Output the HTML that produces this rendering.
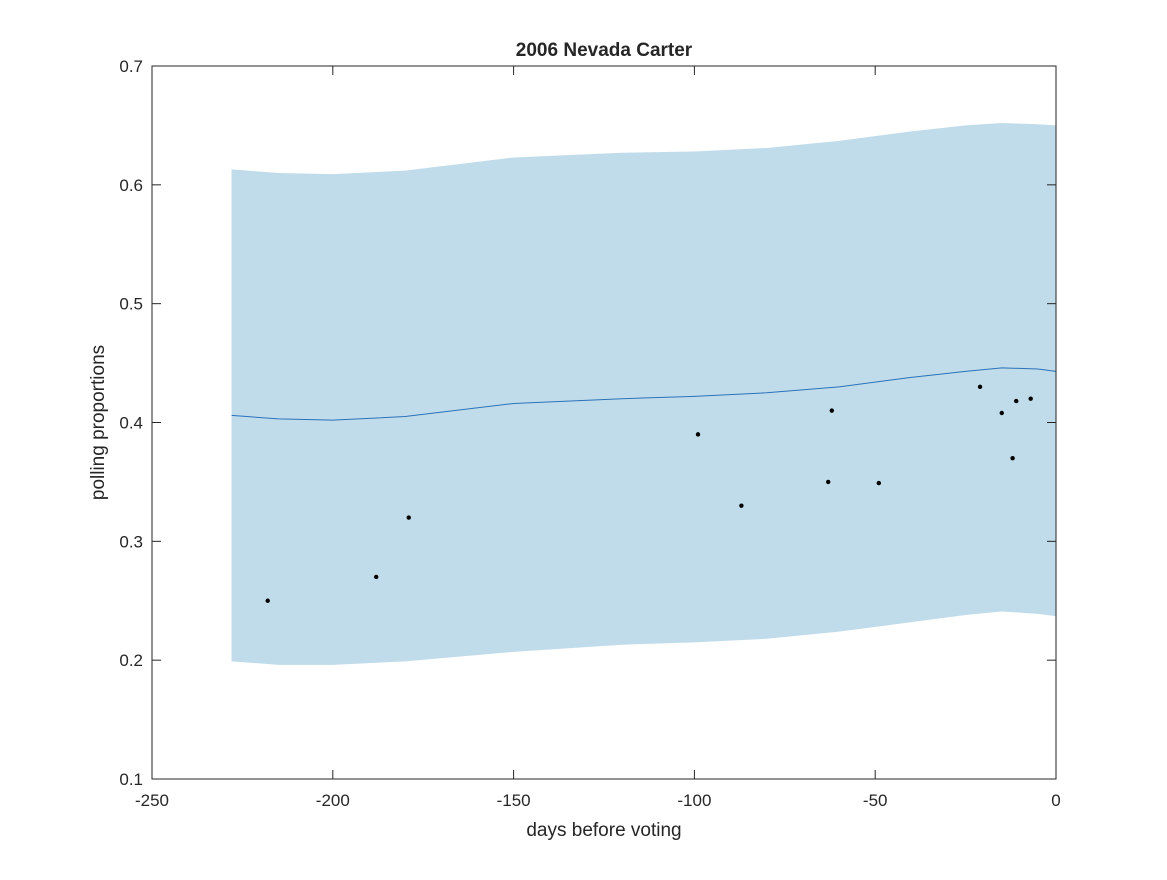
<!DOCTYPE html>
<html><head><meta charset="utf-8"><style>
body{margin:0;background:#fff;font-family:"Liberation Sans",sans-serif;}
svg text{font-family:"Liberation Sans",sans-serif;fill:#262626;}
</style></head><body>
<svg id="chart" width="1167" height="875"></svg>
<script>
const xTicks=[-250,-200,-150,-100,-50,0];
const yTicks=[0.1,0.2,0.3,0.4,0.5,0.6,0.7];
const pollDays=[-218,-188,-179,-99,-87,-63,-62,-49,-21,-15,-12,-11,-7];
const pollVals=[0.25,0.27,0.32,0.39,0.33,0.35,0.41,0.349,0.43,0.408,0.37,0.418,0.42];
const bandDays=[-228,-215,-200,-180,-150,-120,-100,-80,-60,-40,-25,-15,-5,0];
const upperVals=[0.613,0.610,0.609,0.612,0.623,0.627,0.628,0.631,0.637,0.645,0.650,0.652,0.651,0.650];
const lowerVals=[0.199,0.196,0.196,0.199,0.207,0.213,0.215,0.218,0.224,0.232,0.238,0.241,0.239,0.237];
const meanVals=[0.406,0.403,0.402,0.405,0.416,0.420,0.422,0.425,0.430,0.438,0.443,0.446,0.445,0.443];
const L=152,R=1056,T=66,B=779;
const sx=d=>L+(d+250)/250*(R-L);
const sy=v=>B-(v-0.1)/0.6*(B-T);
const svg=document.getElementById('chart');
const NS='http://www.w3.org/2000/svg';
function mk(tag,attrs,parent){const e=document.createElementNS(NS,tag);for(const k in attrs)e.setAttribute(k,attrs[k]);(parent||svg).appendChild(e);return e;}
let up=bandDays.map((d,i)=>sx(d)+','+sy(upperVals[i]));
let lo=bandDays.map((d,i)=>sx(d)+','+sy(lowerVals[i])).reverse();
const band=mk('polygon',{points:up.concat(lo).join(' '),fill:'#c0dcea'});


const mean=mk('polyline',{points:bandDays.map((d,i)=>sx(d)+','+sy(meanVals[i])).join(' '),fill:'none',stroke:'#2a72b8','stroke-width':1});


pollDays.forEach((d,i)=>{
  const c=mk('circle',{cx:sx(d),cy:sy(pollVals[i]),r:2.2,fill:'#000'});
  
  
});
const frame=mk('rect',{x:L,y:T,width:R-L,height:B-T,fill:'none',stroke:'#262626','stroke-width':1});


xTicks.forEach(t=>{
  const x=sx(t);
  mk('line',{x1:x,y1:B,x2:x,y2:B-9,stroke:'#262626'});
  mk('line',{x1:x,y1:T,x2:x,y2:T+9,stroke:'#262626'});
  const tx=mk('text',{x:x,y:B+27,'font-size':17,'text-anchor':'middle'});tx.textContent=t;
  
  
});
yTicks.forEach(t=>{
  const y=sy(t);
  mk('line',{x1:L,y1:y,x2:L+9,y2:y,stroke:'#262626'});
  mk('line',{x1:R,y1:y,x2:R-9,y2:y,stroke:'#262626'});
  const tx=mk('text',{x:L-9,y:y+6,'font-size':17,'text-anchor':'end'});tx.textContent=t.toFixed(1);
  
  
});
const title=mk('text',{x:(L+R)/2,y:56,'font-size':19,'font-weight':'bold','text-anchor':'middle'});
title.textContent='2006 Nevada Carter';


const xl=mk('text',{x:(L+R)/2,y:836,'font-size':19,'text-anchor':'middle'});
xl.textContent='days before voting';


const yl=mk('text',{x:0,y:0,'font-size':19,'text-anchor':'middle',transform:'translate(104,'+((T+B)/2)+') rotate(-90)'});
yl.textContent='polling proportions';


</script>
</body></html>
